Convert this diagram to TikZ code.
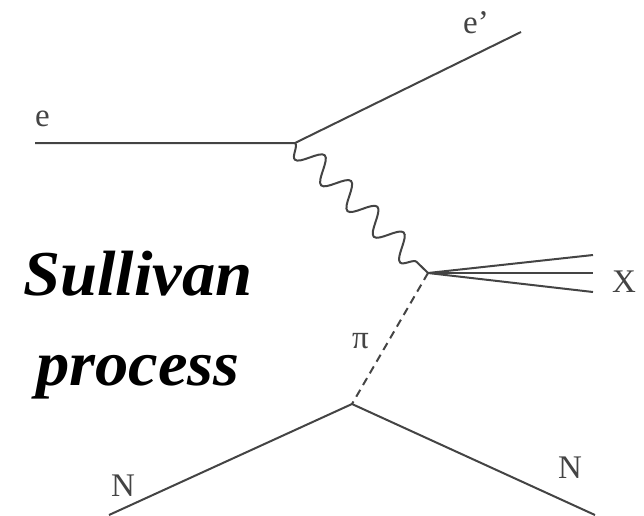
\documentclass[tikz,border=0pt]{standalone}
\usepackage{fontspec}
\setmainfont{Liberation Serif}
\usetikzlibrary{decorations.pathmorphing}
\definecolor{linegray}{HTML}{444444}
\tikzset{
  fermion/.style={draw=linegray, line width=2pt},
  photon/.style={draw=linegray, line width=2pt, decorate,
    decoration={snake, segment length=36.8pt, amplitude=12pt, mirror}},
  pion/.style={draw=linegray, line width=2pt, dash pattern=on 8pt off 5.5pt},
  lbl/.style={anchor=base west, inner sep=0pt, text=linegray, font=\fontsize{33}{33}\selectfont},
  title/.style={align=center, inner sep=0pt, xscale=1.04, font=\fontsize{64}{90}\selectfont\bfseries\itshape}
}
\begin{document}
\begin{tikzpicture}[x=1pt, y=-1pt]
\useasboundingbox (0,0) rectangle (644,515);
% vertices and free ends
\coordinate (ein) at (35,143);
\coordinate (v1) at (295,143);
\coordinate (eout) at (521,32);
\coordinate (v2) at (428,273);
\coordinate (x1) at (593,255);
\coordinate (x2) at (593,273);
\coordinate (x3) at (593,292);
\coordinate (v3) at (352,404);
\coordinate (nin) at (109,515);
\coordinate (nout) at (595,515);
% lines
\draw[fermion] (ein) -- (v1) -- (eout);
\draw[photon] (v1) -- (v2);
\draw[fermion] (v2) -- (x1);
\draw[fermion] (v2) -- (x2);
\draw[fermion] (v2) -- (x3);
\draw[pion] (v2) -- (v3);
\draw[fermion] (nin) -- (v3) -- (nout);
% labels
\node[lbl] (le) at (35,126) {e};
\node[lbl] (leout) at (463,33) {e’};
\node[lbl] (lx) at (612,292) {X};
\node[lbl] (lpi) at (352,348) {π};
\node[lbl] (lnin) at (111,496) {N};
\node[lbl] (lnout) at (558,478) {N};
\node[title] (sul) at (138,325) {Sullivan\\process};
\end{tikzpicture}
\end{document}
